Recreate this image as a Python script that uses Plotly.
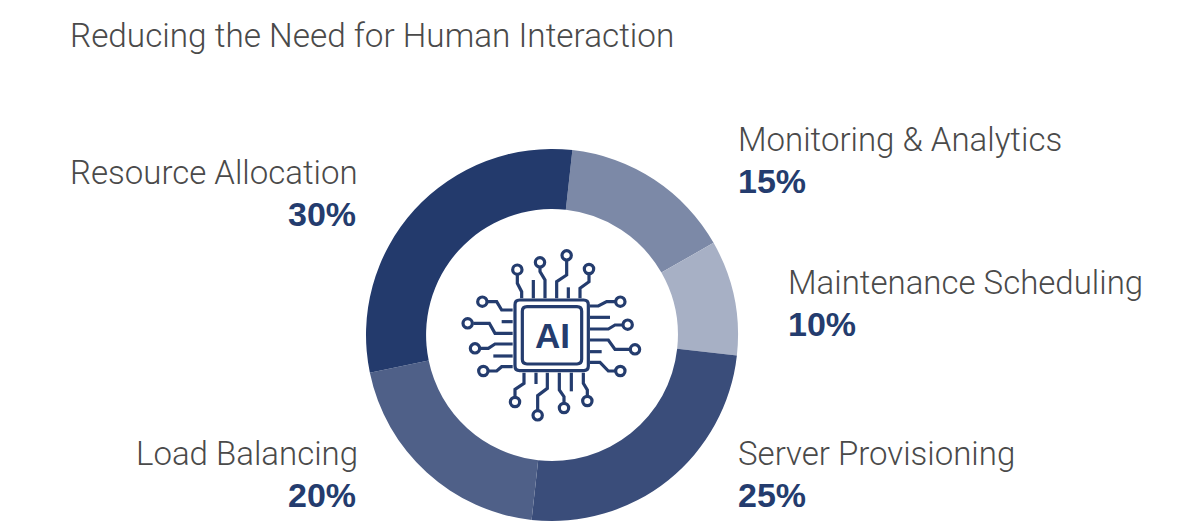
import plotly.graph_objects as go

W, H = 1183, 522
title = "Reducing the Need for Human Interaction"
categories = ["Monitoring & Analytics", "Maintenance Scheduling", "Server Provisioning", "Load Balancing", "Resource Allocation"]
values = [15, 10, 25, 20, 30]
colors = ["#7c89a7", "#a7b0c5", "#3a4d7a", "#4f6088", "#233a6c"]
label_x = [736, 786, 736, 360, 360]
pct_x = [736, 786, 736, 358, 358]
label_side = ["left", "left", "left", "right", "right"]
name_y = [139, 282, 453, 453, 172]
pct_y = [181, 324, 495, 495, 214]

NAVY = "#243c6e"
TEXT = "#4a4a4a"
FONT = "Roboto"

def px(x): return x / W
def py(y): return 1 - y / H

fig = go.Figure(go.Pie(
    labels=categories, values=values, sort=False, direction="clockwise", rotation=6.3,
    hole=0.677, textinfo="none", hoverinfo="label+percent",
    marker=dict(colors=colors, line=dict(width=0)),
    domain=dict(x=[px(366), px(738)], y=[py(521), py(149)]),
    showlegend=False,
))

annotations = [dict(text=title, x=px(68), y=py(35), xref="paper", yref="paper", xanchor="left",
                    yanchor="middle", showarrow=False,
                    font=dict(family=FONT, size=33.3, color=TEXT, weight=300))]
for c, v, x, x2, side, ny, vy in zip(categories, values, label_x, pct_x, label_side, name_y, pct_y):
    annotations.append(dict(text=c.replace("&", "&amp;"), x=px(x), y=py(ny), xref="paper", yref="paper", xanchor=side,
                            yanchor="middle", showarrow=False,
                            font=dict(family=FONT, size=33, color=TEXT, weight=300)))
    annotations.append(dict(text=f"<b>{v}%</b>", x=px(x2), y=py(vy), xref="paper", yref="paper", xanchor=side,
                            yanchor="middle", showarrow=False,
                            font=dict(family="Liberation Sans", size=34, color=NAVY)))

# Decorative chip icon (zoomed-crop coordinates, 3x from origin 440,230)
def ix(z): return px(440 + z / 3)
def iy(z): return py(230 + z / 3)

circuits = [
    ([(245,205),(245,185),(232,160),(232,135)], (232,119)),
    ([(280,205),(280,150)], None),
    ([(315,205),(315,150),(300,125),(300,112)], (300,97)),
    ([(350,205),(350,155),(380,135),(380,92)], (380,76)),
    ([(385,205),(385,172)], None),
    ([(420,205),(420,175),(447,155),(447,132)], (447,117)),
    ([(450,228),(475,228),(500,215),(525,215)], (541,215)),
    ([(450,262),(510,262)], None),
    ([(450,297),(505,297),(525,285),(547,285)], (563,284)),
    ([(450,330),(505,330),(525,358),(568,358)], (585,358)),
    ([(450,365),(485,365)], None),
    ([(450,397),(480,397),(505,423),(525,423)], (541,423)),
    ([(218,240),(185,240),(170,215),(143,215)], (127,215)),
    ([(218,275),(185,275)], None),
    ([(218,310),(165,310),(148,280),(100,280)], (83,280)),
    ([(218,342),(165,342),(145,355),(122,355)], (105,355)),
    ([(218,378),(160,378)], None),
    ([(218,410),(185,410),(170,423),(147,423)], (130,423)),
    ([(252,428),(252,460),(225,478),(225,500)], (225,516)),
    ([(288,428),(288,462)], None),
    ([(322,428),(322,475),(293,497),(293,540)], (293,556)),
    ([(358,428),(358,480),(372,500),(372,518)], (372,534)),
    ([(394,428),(394,484)], None),
    ([(430,428),(430,460),(442,480),(442,497)], (442,513)),
]
shapes = []
line = dict(color=NAVY, width=3.2)
def rrect(x0, y0, x1, y1, r):
    pts = f"M{ix(x0+r)},{iy(y0)} L{ix(x1-r)},{iy(y0)} Q{ix(x1)},{iy(y0)} {ix(x1)},{iy(y0+r)} " \
          f"L{ix(x1)},{iy(y1-r)} Q{ix(x1)},{iy(y1)} {ix(x1-r)},{iy(y1)} " \
          f"L{ix(x0+r)},{iy(y1)} Q{ix(x0)},{iy(y1)} {ix(x0)},{iy(y1-r)} " \
          f"L{ix(x0)},{iy(y0+r)} Q{ix(x0)},{iy(y0)} {ix(x0+r)},{iy(y0)} Z"
    return pts
for path, dot in circuits:
    d = "M" + " L".join(f"{ix(a)},{iy(b)}" for a, b in path)
    shapes.append(dict(type="path", xref="paper", yref="paper", path=d, line=line))
    if dot:
        r = 14
        shapes.append(dict(type="circle", xref="paper", yref="paper", x0=ix(dot[0]-r), x1=ix(dot[0]+r),
                           y0=iy(dot[1]+r), y1=iy(dot[1]-r), line=line, fillcolor="white"))
shapes.append(dict(type="path", xref="paper", yref="paper", path=rrect(225,210,445,422,14), line=line, fillcolor="white"))
shapes.append(dict(type="path", xref="paper", yref="paper", path=rrect(247,230,425,402,14), line=line, fillcolor="white"))
annotations.append(dict(text="<b>AI</b>", x=px(552), y=py(335), xref="paper", yref="paper", xanchor="center",
                        yanchor="middle", showarrow=False,
                        font=dict(family="Liberation Sans", size=35, color=NAVY)))

fig.update_layout(width=W, height=H, margin=dict(l=0, r=0, t=0, b=0), autosize=False,
                  paper_bgcolor="white", plot_bgcolor="white",
                  annotations=annotations, shapes=shapes)
fig.write_html("out.html", config=dict(displayModeBar=False),
               post_script="document.body.style.margin='0';document.documentElement.style.overflow='hidden';")
